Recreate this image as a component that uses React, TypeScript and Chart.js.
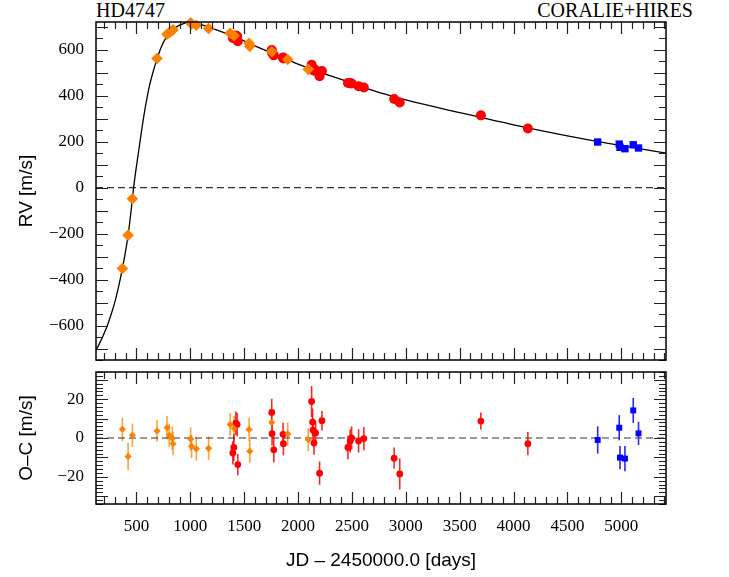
import React, { useEffect, useRef } from 'react';
import { Chart, registerables } from 'chart.js';

Chart.register(...registerables);

// ---- axis ranges & tick labels ----
const xMin = 125;
const xMax = 5415;
const rvMin = -750;
const rvMax = 720;
const ocMin = -34;
const ocMax = 34;

const xTickLabels = [500, 1000, 1500, 2000, 2500, 3000, 3500, 4000, 4500, 5000];
const rvTickLabels = [-600, -400, -200, 0, 200, 400, 600];
const ocTickLabels = [-20, 0, 20];

// ---- CORALIE98 (orange diamonds) ----
const c98Days = [370, 423, 463, 691, 784, 805, 833, 840, 1003, 1012, 1056, 1170, 1370, 1407, 1546, 1552, 1756, 1904, 2095];
const c98RV = [-352, -207, -49, 561, 667, 673, 683, 686, 716, 712, 706, 692, 671, 660, 627, 614, 591, 557, 514];
const c98OC = [4.5, -9.5, 1.4, 3.6, 5.3, 1.4, -0.2, -2.9, -0.5, -4.3, -5.6, -5.3, 6.9, 4.9, 4.4, -6.8, 8.0, 2.1, -0.8];
const c98Err = [6, 7, 6, 5.5, 6, 6, 6, 6, 6, 6, 6, 6, 6, 6.5, 6, 6, 6.5, 6, 6];

// ---- CORALIE07 (red circles) ----
const c07Days = [1395, 1404, 1423, 1435, 1441, 1756, 1759, 1775, 1861, 1864, 2126, 2135, 2139, 2148, 2163, 2200, 2222, 2463, 2484, 2497, 2562, 2611, 2892, 2944, 3697, 4133];
const c07RV = [651, 652, 661, 658, 636, 598, 586, 575, 566, 561, 534, 521, 517, 508, 511, 484, 507, 455, 455, 453, 441, 435, 385, 370, 314, 257];
const c07OC = [-7.7, -4.9, 7.7, 6.9, -13.7, 13.2, 2.2, -6.1, 1.9, -2.9, 18.8, 8.2, 4.1, -2.6, 2.6, -18.1, 8.9, -4.9, -1.5, 0, -1.5, -0.3, -10.4, -18.5, 8.7, -2.9];
const c07Err = [6, 7, 6, 6, 5.5, 7, 6, 6.5, 6, 6, 8, 7, 6, 6, 6, 6, 5, 6, 6, 6, 6, 6, 5.5, 8, 4.5, 6];

// ---- HIRES (blue squares) ----
const hiresDays = [4781, 4981, 4988, 5034, 5111, 5160];
const hiresRV = [198, 189, 175, 169, 186, 172];
const hiresOC = [-1.0, 5.3, -10.1, -10.6, 14.2, 2.4];
const hiresErr = [7, 6.5, 6, 6.5, 6.5, 6];

// ---- Keplerian model curve ----
const modelDays = [125, 185, 247, 308, 370, 423, 463, 474, 525, 571, 618, 664, 694, 730, 757, 784, 833, 895, 988, 1100, 1200, 1400, 1600, 1800, 2000, 2200, 2400, 2600, 2800, 3000, 3500, 4000, 4500, 5000, 5415];
const modelRV = [-708, -651, -578, -484, -352, -207, -49, 0, 172, 317, 436, 518, 563, 610, 637, 658, 684, 705, 717, 709, 693, 658, 616, 576, 537, 502, 470, 437, 407, 381, 326, 273, 225, 182, 150];

const ORANGE = 'rgb(255,128,0)';
const RED = 'rgb(255,0,0)';
const BLUE = 'rgb(0,0,255)';
const SERIF = 'Liberation Serif';
const SANS = 'Liberation Sans';

Chart.defaults.font.family = SERIF;

const pts = (xs: number[], ys: number[]) => xs.map((x, i) => ({ x, y: ys[i] }));
const fmt = (v: any) => (v < 0 ? '\u2212' + Math.abs(v) : String(v));

const axisDecor = (yMinor: number, yMajor: number) => ({
  id: 'axisDecor',
  afterDraw(chart: any) {
    const { ctx, chartArea: a, scales } = chart;
    const xs = scales.x;
    const ys = scales.y;
    ctx.save();
    ctx.strokeStyle = '#222';
    ctx.lineWidth = 1.2;
    ctx.beginPath();
    for (let v = Math.ceil(xs.min / 100) * 100; v <= xs.max; v += 100) {
      const px = Math.round(xs.getPixelForValue(v)) + 0.5;
      const len = v % 500 === 0 ? 12 : 7;
      ctx.moveTo(px, a.top);
      ctx.lineTo(px, a.top + len);
      ctx.moveTo(px, a.bottom);
      ctx.lineTo(px, a.bottom - len);
    }
    for (let v = Math.ceil(ys.min / yMinor) * yMinor; v <= ys.max; v += yMinor) {
      const py = Math.round(ys.getPixelForValue(v)) + 0.5;
      const len = Math.abs(v % yMajor) < 1e-9 ? 12 : 7;
      ctx.moveTo(a.left, py);
      ctx.lineTo(a.left + len, py);
      ctx.moveTo(a.right, py);
      ctx.lineTo(a.right - len, py);
    }
    ctx.stroke();
    ctx.strokeStyle = '#000';
    ctx.lineWidth = 1.5;
    ctx.strokeRect(a.left, a.top, a.right - a.left, a.bottom - a.top);
    ctx.restore();
  },
});

const errorBars = {
  id: 'errorBars',
  beforeDatasetsDraw(chart: any) {
    const { ctx, scales } = chart;
    const xs = scales.x;
    const ys = scales.y;
    chart.data.datasets.forEach((ds: any) => {
      if (!ds.errors) return;
      ctx.save();
      ctx.strokeStyle = ds.errorColor;
      ctx.lineWidth = 1.6;
      ds.data.forEach((p: any, i: number) => {
        const px = xs.getPixelForValue(p.x);
        ctx.beginPath();
        ctx.moveTo(px, ys.getPixelForValue(p.y - ds.errors[i]));
        ctx.lineTo(px, ys.getPixelForValue(p.y + ds.errors[i]));
        ctx.stroke();
      });
      ctx.restore();
    });
  },
};

const zeroPad = (s: any) => {
  s.paddingTop = 0;
  s.paddingBottom = 0;
  s.paddingLeft = 0;
  s.paddingRight = 0;
};

export default function App() {
  const topRef = useRef<HTMLCanvasElement>(null);
  const botRef = useRef<HTMLCanvasElement>(null);

  useEffect(() => {
    const yAxis = (min: number, max: number, ticks: number[], title: string) => ({
      type: 'linear',
      min,
      max,
      afterBuildTicks: (s: any) => {
        s.ticks = ticks.map((v) => ({ value: v }));
      },
      afterFit: (s: any) => {
        s.width = 96;
        zeroPad(s);
      },
      grid: { display: false, drawTicks: false },
      border: { display: false },
      ticks: {
        autoSkip: false,
        padding: 12,
        color: '#000',
        font: { family: SERIF, size: 17 },
        callback: fmt,
      },
      title: {
        display: true,
        text: title,
        color: '#000',
        font: { family: SANS, size: 19 },
        padding: { top: 15, bottom: 0 },
      },
    });

    const top = new Chart(topRef.current!, {
      type: 'scatter',
      data: {
        datasets: [
          { label: 'CORALIE98', data: pts(c98Days, c98RV), pointStyle: 'rectRot', pointRadius: 5.8, backgroundColor: ORANGE, borderColor: ORANGE, borderWidth: 0, order: 0, clip: false } as any,
          { label: 'CORALIE07', data: pts(c07Days, c07RV), pointStyle: 'circle', pointRadius: 5, backgroundColor: RED, borderColor: RED, borderWidth: 0, order: 1, clip: false },
          { label: 'HIRES', data: pts(hiresDays, hiresRV), pointStyle: 'rect', pointRadius: 5.2, backgroundColor: BLUE, borderColor: BLUE, borderWidth: 0, order: 2, clip: false },
          { label: 'model', data: pts(modelDays, modelRV), showLine: true, pointRadius: 0, borderColor: '#000', borderWidth: 1.3, cubicInterpolationMode: 'monotone', order: 3 },
          { label: 'zero', data: [{ x: xMin, y: 0 }, { x: xMax, y: 0 }], showLine: true, pointRadius: 0, borderColor: '#333', borderWidth: 1.2, borderDash: [7, 4], order: 4 },
        ],
      },
      options: {
        responsive: false,
        maintainAspectRatio: false,
        animation: false,
        events: [],
        layout: { padding: { left: 0, right: 63, top: 22, bottom: 6 } },
        plugins: { legend: { display: false }, tooltip: { enabled: false } },
        scales: {
          x: { type: 'linear', min: xMin, max: xMax, display: false },
          y: yAxis(rvMin, rvMax, rvTickLabels, 'RV [m/s]'),
        } as any,
      },
      plugins: [axisDecor(50, 100)],
    } as any);

    const bot = new Chart(botRef.current!, {
      type: 'scatter',
      data: {
        datasets: [
          { label: 'CORALIE98', data: pts(c98Days, c98OC), errors: c98Err, errorColor: 'rgba(255,128,0,0.75)', pointStyle: 'rectRot', pointRadius: 3.6, backgroundColor: ORANGE, borderColor: ORANGE, borderWidth: 0, order: 0, clip: false } as any,
          { label: 'CORALIE07', data: pts(c07Days, c07OC), errors: c07Err, errorColor: 'rgba(255,0,0,0.85)', pointStyle: 'circle', pointRadius: 3.4, backgroundColor: RED, borderColor: RED, borderWidth: 0, order: 1, clip: false },
          { label: 'HIRES', data: pts(hiresDays, hiresOC), errors: hiresErr, errorColor: 'rgba(0,0,255,0.85)', pointStyle: 'rect', pointRadius: 4.2, backgroundColor: BLUE, borderColor: BLUE, borderWidth: 0, order: 2, clip: false },
          { label: 'zero', data: [{ x: xMin, y: 0 }, { x: xMax, y: 0 }], showLine: true, pointRadius: 0, borderColor: '#333', borderWidth: 1.2, borderDash: [7, 4], order: 4 },
        ],
      },
      options: {
        responsive: false,
        maintainAspectRatio: false,
        animation: false,
        events: [],
        layout: { padding: { left: 0, right: 63, top: 6, bottom: 0 } },
        plugins: { legend: { display: false }, tooltip: { enabled: false } },
        scales: {
          x: {
            type: 'linear',
            min: xMin,
            max: xMax,
            afterBuildTicks: (s: any) => {
              s.ticks = xTickLabels.map((v) => ({ value: v }));
            },
            afterFit: (s: any) => {
              s.height = 73;
              zeroPad(s);
            },
            grid: { display: false, drawTicks: false },
            border: { display: false },
            ticks: {
              autoSkip: false,
              maxRotation: 0,
              padding: 12,
              color: '#000',
              font: { family: SERIF, size: 17 },
              callback: fmt,
            },
            title: {
              display: true,
              text: 'JD \u2013 2450000.0 [days]',
              color: '#000',
              font: { family: SANS, size: 19 },
              padding: { top: 0, bottom: 5 },
            },
          },
          y: yAxis(ocMin, ocMax, ocTickLabels, 'O\u2013C [m/s]'),
        } as any,
      },
      plugins: [errorBars, axisDecor(2, 10)],
    } as any);

    return () => {
      top.destroy();
      bot.destroy();
    };
  }, []);

  const titleStyle: React.CSSProperties = {
    position: 'absolute',
    top: 0,
    fontFamily: '"Liberation Serif", serif',
    fontSize: 20,
    lineHeight: '20px',
    color: '#000',
    whiteSpace: 'nowrap',
  };

  return (
    <div style={{ position: 'absolute', left: 0, top: 0, width: 729, height: 577, background: '#fff' }}>
      <div style={{ ...titleStyle, left: 96 }}>HD4747</div>
      <div style={{ ...titleStyle, right: 36 }}>CORALIE+HIRES</div>
      <canvas ref={topRef} width={729} height={366} style={{ position: 'absolute', left: 0, top: 0, width: 729, height: 366 }} />
      <canvas ref={botRef} width={729} height={211} style={{ position: 'absolute', left: 0, top: 366, width: 729, height: 211 }} />
    </div>
  );
}
